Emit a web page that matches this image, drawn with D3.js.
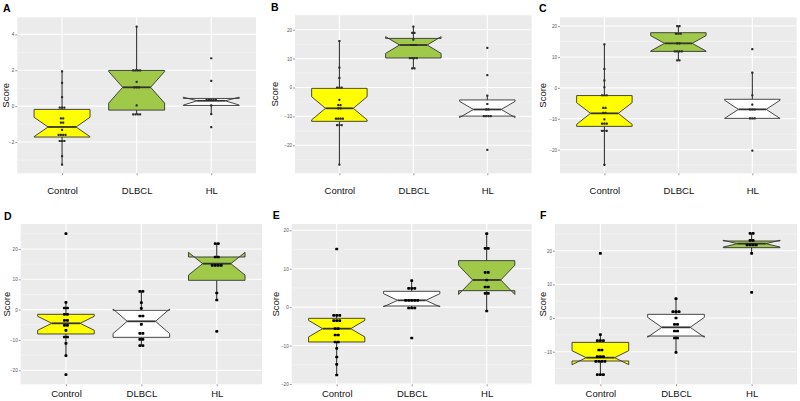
<!DOCTYPE html>
<html><head><meta charset="utf-8">
<script src="https://cdn.jsdelivr.net/npm/d3@7"></script>
<style>body{margin:0;background:#fff}svg{display:block}</style>
</head><body>
<svg id="chart" width="800" height="401"></svg>
<script>
// ---------------- DATA ----------------
const categories = ["Control", "DLBCL", "HL"];
const panelLetters = ["A", "B", "C", "D", "E", "F"];
const yDomains = [[-3.74, 4.95], [-29.69, 25.09], [-27.65, 22.83], [-24.62, 28.24], [-20.08, 21.64], [-19.68, 27.93]];
const yTickValues = [[-2, 0, 2, 4], [-20, -10, 0, 10, 20], [-20, -10, 0, 10, 20], [-20, -10, 0, 10, 20], [-20, -10, 0, 10, 20], [-10, 0, 10, 20]];
// per panel: [Control, DLBCL, HL]
const q1 = [[-1.72, -0.22, 0.04], [-11.7, 10.2, -9.9], [-12.46, 11.8, -9.87], [-8.03, -9.13, 9.67], [-9.07, 0.30, 4.29], [-12.76, -5.34, 20.9]];
const median = [[-1.16, 1.05, 0.30], [-7.2, 14.7, -7.6], [-8.25, 14.4, -6.96], [-4.51, -3.85, 15.16], [-5.6, 1.77, 7.07], [-11.77, -2.76, 22.09]];
const q3 = [[-0.18, 1.99, 0.43], [-0.29, 17.0, -4.3], [-2.5, 17.85, -3.7], [-1.54, -0.22, 17.36], [-2.91, 4.12, 12.1], [-7.22, 1.1, 22.88]];
const whiskerLow = [[-3.26, -0.46, -0.44], [-26.7, 6.6, -9.9], [-24.9, 8.9, -9.87], [-15.18, -11.88, 3.18], [-17.66, -0.22, -1.0], [-16.82, -10.19, 19.22]];
const whiskerHigh = [[1.94, 4.43, 0.43], [16.1, 21.1, -2.8], [14.1, 20.0, 4.9], [2.41, 6.04, 21.76], [-2.13, 6.89, 19.12], [-4.94, 5.75, 25.16]];
const notchLow = [[-1.70, 0.17, 0.06], [-11.2, 11.8, -10.4], [-11.8, 11.9, -9.9], [-6.8, -7.9, 11.4], [-7.75, 0.1, 3.3], [-13.85, -5.7, 21.1]];
const notchHigh = [[-0.62, 1.93, 0.50], [-3.2, 17.6, -4.8], [-4.8, 16.9, -4.0], [-2.2, 0.2, 18.9], [-3.45, 3.5, 10.9], [-9.7, 0.2, 23.1]];
const points = [
  [ // A
    [1.94, 1.30, 0.50, -0.08, -0.08, -0.08, -0.68, -0.68, -0.92, -0.92, -1.32, -1.60, -1.60, -1.60, -1.60, -1.94, -1.94, -1.94, -2.78, -3.26],
    [4.43, 1.99, 1.99, 1.99, 1.99, 1.35, 1.05, 1.05, 1.05, 0.04, -0.46, -0.46, -0.46, -0.46],
    [2.67, 1.41, 0.35, 0.35, 0.35, 0.35, 0.35, 0.04, -0.44, -1.17]
  ],
  [ // B
    [16.1, 6.9, 3.3, 0.0, 0.0, 0.0, -4.3, -6.1, -6.1, -7.2, -7.2, -10.8, -10.8, -10.8, -10.8, -13.0, -13.0, -13.0, -26.7],
    [21.1, 18.9, 18.9, 16.6, 14.7, 14.7, 14.7, 10.2, 10.2, 10.2, 10.2, 6.6, 6.6],
    [13.7, 4.3, -2.8, -5.7, -7.6, -7.6, -9.9, -9.9, -9.9, -9.9, -21.6]
  ],
  [ // C
    [14.1, 6.1, 2.4, 0.2, -2.4, -2.4, -2.4, -6.5, -6.5, -8.1, -8.1, -10.2, -11.6, -11.6, -11.6, -13.9, -13.9, -13.9, -24.9],
    [20.0, 20.0, 17.5, 17.5, 17.5, 14.4, 14.4, 11.8, 11.8, 11.8, 11.8, 8.9, 8.9],
    [12.5, 4.9, -2.4, -5.4, -7.0, -7.0, -7.0, -9.9, -9.9, -9.9, -20.3]
  ],
  [ // D
    [25.06, 2.41, 0.54, 0.54, -1.54, -1.54, -3.52, -3.52, -5.17, -5.17, -6.82, -9.02, -9.02, -11.1, -15.18, -21.44],
    [6.04, 6.04, 2.30, 0.43, -2.09, -2.09, -4.84, -7.81, -7.81, -9.79, -9.79, -11.88, -11.88],
    [21.76, 21.76, 17.36, 17.36, 14.61, 14.61, 14.61, 14.61, 5.49, 3.18, -7.15]
  ],
  [ // E
    [15.13, -2.13, -2.13, -2.13, -3.52, -3.52, -3.52, -5.6, -5.6, -7.25, -7.25, -9.07, -9.07, -10.72, -12.97, -14.88, -17.66],
    [6.89, 4.90, 4.90, 4.90, 1.77, 1.77, 1.77, 1.77, 1.77, -0.22, -0.22, -0.22, -8.03],
    [19.12, 15.31, 15.31, 9.06, 9.06, 7.07, 5.24, 5.24, 3.6, 3.6, -1.0]
  ],
  [ // F
    [19.22, -4.94, -6.72, -6.72, -6.72, -9.5, -9.5, -11.48, -11.48, -11.48, -12.86, -12.86, -12.86, -12.86, -16.82, -16.82, -16.82],
    [5.75, 1.89, 1.89, 1.89, 0.01, -1.87, -1.87, -3.85, -3.85, -5.93, -5.93, -10.19],
    [25.16, 25.16, 23.08, 23.08, 21.69, 21.69, 21.69, 21.69, 19.22, 7.63]
  ]
];

// ---------------- LAYOUT / STYLE ----------------
const YELLOW = "#FFFF00", GREEN = "#A0C94A", WHITE = "#FFFFFF";
const fills = [[YELLOW, GREEN, WHITE], [YELLOW, GREEN, WHITE], [YELLOW, GREEN, WHITE],
               [YELLOW, WHITE, GREEN], [YELLOW, WHITE, GREEN], [YELLOW, WHITE, GREEN]];
const layout = [
  {x0: 17.3, x1: 256, y0: 17.3, y1: 173.3, lx: 3, ly: 11.7, sx: 6, xpad: 12, dw: 2.2, dh: 2.2, dotGap: 2.3, dotColor: "#2a2a2a"},
  {x0: 295, x1: 531.7, y0: 15, y1: 173.3, lx: 271, ly: 10.7, sx: 275, xpad: 12, dw: 2.2, dh: 2.2, dotGap: 2.3, dotColor: "#2a2a2a"},
  {x0: 560, x1: 796.7, y0: 17.3, y1: 173.3, lx: 539, ly: 11.7, sx: 542.7, xpad: 12, dw: 2.2, dh: 2.2, dotGap: 2.3, dotColor: "#2a2a2a"},
  {x0: 20.7, x1: 262, y0: 224, y1: 384.3, lx: 4, ly: 220, sx: 6.7, xpad: 4, dw: 3.0, dh: 2.7, dotGap: 3.0, dotColor: "#000"},
  {x0: 291.7, x1: 531.7, y0: 224, y1: 384.3, lx: 272.7, ly: 219, sx: 275.7, xpad: 4, dw: 3.0, dh: 2.7, dotGap: 3.0, dotColor: "#000"},
  {x0: 555, x1: 797, y0: 224, y1: 384.3, lx: 540, ly: 219, sx: 542.7, xpad: 4, dw: 3.0, dh: 2.7, dotGap: 3.0, dotColor: "#000"}
];
const FONT = "'Liberation Sans', Arial, Helvetica, sans-serif";

const svg = d3.select("#chart");

layout.forEach((L, p) => {
  const g = svg.append("g");
  const x = d3.scalePoint().domain(categories).range([L.x0, L.x1]).padding(0.6);
  const y = d3.scaleLinear().domain(yDomains[p]).range([L.y1, L.y0]);
  const step = x.step();
  const boxW = step * 0.75;

  g.append("text").attr("x", L.lx).attr("y", L.ly).text(panelLetters[p])
    .attr("font-family", FONT).attr("font-weight", "bold").attr("font-size", 10.5).attr("fill", "#000");

  g.append("rect").attr("x", L.x0).attr("y", L.y0).attr("width", L.x1 - L.x0).attr("height", L.y1 - L.y0)
    .attr("fill", "#EBEBEB");

  const t = yTickValues[p];
  const st = t[1] - t[0];
  const minor = [];
  for (let v = t[0] - st / 2; v <= yDomains[p][1]; v += st) if (v >= yDomains[p][0]) minor.push(v);
  g.selectAll(".minor").data(minor).join("line")
    .attr("x1", L.x0).attr("x2", L.x1).attr("y1", d => y(d)).attr("y2", d => y(d))
    .attr("stroke", "#F6F6F6").attr("stroke-width", 0.6);
  g.selectAll(".major").data(t).join("line")
    .attr("x1", L.x0).attr("x2", L.x1).attr("y1", d => y(d)).attr("y2", d => y(d))
    .attr("stroke", "#FFFFFF").attr("stroke-width", 1.1);
  g.selectAll(".vmajor").data(categories).join("line")
    .attr("x1", d => x(d)).attr("x2", d => x(d)).attr("y1", L.y0).attr("y2", L.y1)
    .attr("stroke", "#FFFFFF").attr("stroke-width", 1.1);

  const ya = g.append("g").attr("transform", `translate(${L.x0},0)`)
    .call(d3.axisLeft(y).tickValues(t).tickSize(2).tickPadding(1));
  ya.select(".domain").remove();
  ya.selectAll("line").attr("stroke", "#555").attr("stroke-width", 0.6);
  ya.selectAll("text").attr("font-family", FONT).attr("font-size", 4.6).attr("fill", "#555");

  const xa = g.append("g").attr("transform", `translate(0,${L.y1})`)
    .call(d3.axisBottom(x).tickSize(2).tickPadding(L.xpad));
  xa.select(".domain").remove();
  xa.selectAll("line").attr("stroke", "#555").attr("stroke-width", 0.6);
  xa.selectAll("text").attr("font-family", FONT).attr("font-size", 9.5).attr("fill", "#111");

  g.append("text").attr("transform", `translate(${L.sx},${(L.y0 + L.y1) / 2}) rotate(-90)`)
    .attr("text-anchor", "middle").attr("dy", "0.35em").text("Score")
    .attr("font-family", FONT).attr("font-size", 9.5).attr("fill", "#111");

  categories.forEach((c, i) => {
    const cx = x(c);
    const xl = cx - boxW / 2, xr = cx + boxW / 2, inset = boxW * 0.25;
    g.append("line").attr("x1", cx).attr("x2", cx).attr("y1", y(q3[p][i])).attr("y2", y(whiskerHigh[p][i]))
      .attr("stroke", "#222").attr("stroke-width", 1);
    g.append("line").attr("x1", cx).attr("x2", cx).attr("y1", y(q1[p][i])).attr("y2", y(whiskerLow[p][i]))
      .attr("stroke", "#222").attr("stroke-width", 1);
    const pts = [
      [xl, y(q3[p][i])], [xl, y(notchHigh[p][i])], [xl + inset, y(median[p][i])], [xl, y(notchLow[p][i])],
      [xl, y(q1[p][i])], [xr, y(q1[p][i])], [xr, y(notchLow[p][i])], [xr - inset, y(median[p][i])],
      [xr, y(notchHigh[p][i])], [xr, y(q3[p][i])]
    ];
    g.append("path").attr("d", d3.line()(pts) + "Z")
      .attr("fill", fills[p][i]).attr("stroke", "#333").attr("stroke-width", 0.9).attr("stroke-linejoin", "miter");
    g.append("line").attr("x1", xl + inset).attr("x2", xr - inset)
      .attr("y1", y(median[p][i])).attr("y2", y(median[p][i]))
      .attr("stroke", "#333").attr("stroke-width", 1.8);
    const groups = d3.groups(points[p][i], d => d);
    groups.forEach(([v, arr]) => {
      const n = arr.length;
      arr.forEach((d, k) => {
        g.append("rect").attr("x", cx + (k - (n - 1) / 2) * L.dotGap - L.dw / 2).attr("y", y(d) - L.dh / 2)
          .attr("width", L.dw).attr("height", L.dh).attr("rx", L.dw * 0.3).attr("fill", L.dotColor);
      });
    });
  });
});
</script>
</body></html>
